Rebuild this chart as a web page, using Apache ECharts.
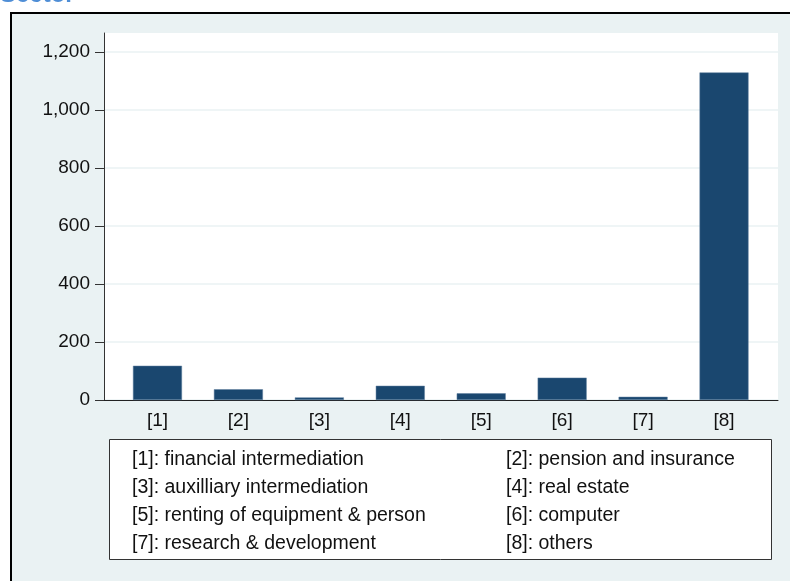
<!DOCTYPE html>
<html>
<head>
<meta charset="utf-8">
<script src="https://cdn.jsdelivr.net/npm/echarts@6/dist/echarts.min.js"></script>
<style>
  html, body { margin: 0; padding: 0; background: #fff; }
  #main { width: 790px; height: 581px; }
</style>
</head>
<body>
<div id="main"></div>
<script>
// data
var categories = ['[1]', '[2]', '[3]', '[4]', '[5]', '[6]', '[7]', '[8]']
var counts = [118, 37, 9, 49, 23, 77, 11, 1129]
var sectorNames = [
  '[1]: financial intermediation',
  '[2]: pension and insurance',
  '[3]: auxilliary intermediation',
  '[4]: real estate',
  '[5]: renting of equipment & person',
  '[6]: computer',
  '[7]: research & development',
  '[8]: others'
]
var yTicks = [0, 200, 400, 600, 800, 1000, 1200]

var FONT = '"Liberation Sans", Arial, sans-serif'
var myChart = echarts.init(document.getElementById('main'), null, { renderer: 'canvas' })

// legend text in two columns
var legendText = sectorNames.map(function (s, i) {
  return {
    type: 'text',
    x: i % 2 === 0 ? 132 : 506,
    y: 460 + Math.floor(i / 2) * 28,
    z: 20,
    style: { text: s, font: '19.5px ' + FONT, fill: '#111', textVerticalAlign: 'middle' }
  }
})

var option = {
  backgroundColor: '#fff',
  animation: false,
  graphic: [
    // outer frame
    {
      type: 'rect', left: 10, top: 12, z: -10,
      shape: { width: 800, height: 600 },
      style: { fill: '#eaf2f3', stroke: '#000', lineWidth: 2 }
    },
    // title (cut off at top)
    {
      type: 'text', left: 0, top: -17, z: 5,
      style: { text: 'Sector', font: 'bold 24px ' + FONT, fill: '#4f8ed6' }
    },
    // legend box
    {
      type: 'rect', left: 109, top: 439, z: 10,
      shape: { width: 662, height: 120 },
      style: { fill: '#fff', stroke: '#333', lineWidth: 1 }
    }
  ].concat(legendText),
  grid: [
    { left: 104, right: 12, top: 33, bottom: 181, show: true, backgroundColor: '#fff', borderWidth: 0 },
    { left: 117, right: 25.5, top: 33, bottom: 181 }
  ],
  xAxis: [
    {
      gridIndex: 0, type: 'value', min: 0, max: 1,
      axisLine: { show: true, onZero: false, lineStyle: { color: '#222', width: 1 } },
      axisTick: { show: false }, axisLabel: { show: false }, splitLine: { show: false }
    },
    {
      gridIndex: 1, type: 'category', data: categories,
      axisLine: { show: false }, axisTick: { show: false },
      axisLabel: { fontSize: 19, fontFamily: FONT, color: '#111', margin: 11 }
    }
  ],
  yAxis: [
    {
      gridIndex: 0, type: 'value', min: 0, max: 1265, interval: 200,
      axisLine: { show: true, lineStyle: { color: '#333', width: 1 } },
      axisTick: { show: true, length: 9, lineStyle: { color: '#333' }, customValues: yTicks },
      axisLabel: {
        fontSize: 19, fontFamily: FONT, color: '#111', margin: 14,
        customValues: yTicks,
        formatter: function (v) { return v % 200 === 0 ? v.toLocaleString('en-US') : '' }
      },
      splitLine: { show: true, lineStyle: { color: '#eaf2f3', width: 1.5 } }
    },
    {
      gridIndex: 1, type: 'value', min: 0, max: 1265, show: false, splitLine: { show: false }
    }
  ],
  series: [
    {
      type: 'bar',
      xAxisIndex: 1,
      yAxisIndex: 1,
      data: counts,
      barWidth: 49,
      itemStyle: { color: '#1a476f', borderColor: '#5f7f9f', borderWidth: 0.5 }
    }
  ]
}

myChart.setOption(option)
</script>
</body>
</html>
